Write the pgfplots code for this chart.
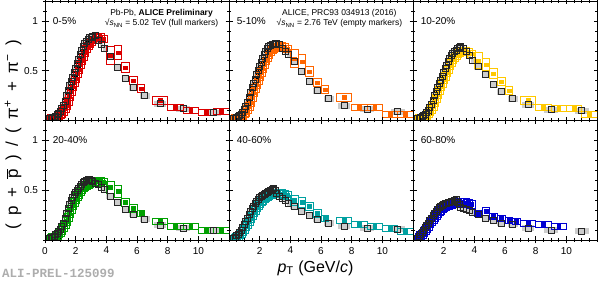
\documentclass[border=0pt]{standalone}
\usepackage{fontspec}
\setmainfont{Liberation Sans}
\newfontfamily\monofont{Liberation Mono}
\usepackage{pgfplots}
\usepackage{pgfplotstable}
\pgfplotsset{compat=1.18}
\usepgfplotslibrary{groupplots}

\definecolor{cA}{RGB}{220,0,0}
\definecolor{cB}{RGB}{255,102,0}
\definecolor{cC}{RGB}{255,200,0}
\definecolor{cD}{RGB}{0,160,0}
\definecolor{cE}{RGB}{0,160,160}
\definecolor{cF}{RGB}{0,0,210}
\definecolor{sysgray}{RGB}{205,205,205}

\pgfdeclareplotmark{sysbox}{\pgfpathrectanglecorners{\pgfpoint{-\bw pt}{-\bh pt}}{\pgfpoint{\bw pt}{\bh pt}}\pgfusepathqstroke}
\pgfdeclareplotmark{sysboxf}{\pgfpathrectanglecorners{\pgfpoint{-\bw pt}{-\bh pt}}{\pgfpoint{\bw pt}{\bh pt}}\pgfusepathqfill}

% ---------- 0-5% ----------
\pgfplotstableread{
x y
0.3 0.020
0.4 0.025
0.5 0.030
0.6 0.035
0.7 0.045
0.8 0.060
0.9 0.075
1.0 0.095
1.1 0.120
1.2 0.150
1.3 0.190
1.4 0.250
1.5 0.300
1.6 0.350
1.7 0.390
1.8 0.430
1.9 0.480
2.0 0.520
2.1 0.570
2.2 0.610
2.3 0.660
2.4 0.700
2.5 0.740
2.6 0.770
2.7 0.790
2.8 0.810
2.9 0.830
3.0 0.830
}\bla
\pgfplotstableread{
x y bw bh
3.1 0.84 1.6 2.5
3.3 0.85 1.6 2.5
3.5 0.80 1.6 2.5
3.7 0.76 1.6 2.5
3.9 0.72 1.6 2.5
4.25 0.64 4 3
4.75 0.53 4 3
5.25 0.42 4 3
5.75 0.33 4 3
6.5 0.25 5 3
7.5 0.17 6 3
9.0 0.12 7 3
11.0 0.08 7 3
}\bha
\pgfplotstableread{
x y
0.4 0.020
0.5 0.022
0.6 0.026
0.7 0.031
0.8 0.037
0.9 0.047
1.0 0.060
1.1 0.075
1.2 0.095
1.3 0.120
1.4 0.150
1.5 0.190
1.6 0.240
1.7 0.290
1.8 0.340
1.9 0.380
2.0 0.420
2.1 0.470
2.2 0.510
2.3 0.560
2.4 0.600
2.5 0.640
2.6 0.680
2.7 0.720
2.8 0.750
2.9 0.770
3.0 0.790
3.2 0.810
3.4 0.830
3.6 0.840
3.8 0.820
}\cla
\pgfplotstableread{
x y bw bh
4.25 0.65 3.9 9
4.75 0.68 3.9 7
5.25 0.53 3.9 5
5.75 0.40 3.9 4
6.25 0.32 3.9 4
7.5 0.20 7.7 4
8.5 0.13 7.7 3
9.5 0.10 7.7 3
10.5 0.085 7.7 3
11.5 0.09 7.7 3
}\cha

% ---------- 5-10% ----------
\pgfplotstableread{
x y
0.3 0.020
0.4 0.025
0.5 0.030
0.6 0.038
0.7 0.050
0.8 0.065
0.9 0.085
1.0 0.110
1.1 0.140
1.2 0.180
1.3 0.230
1.4 0.280
1.5 0.330
1.6 0.370
1.7 0.410
1.8 0.460
1.9 0.500
2.0 0.540
2.1 0.580
2.2 0.620
2.3 0.660
2.4 0.690
2.5 0.720
2.6 0.740
2.7 0.750
2.8 0.760
2.9 0.760
3.0 0.770
}\blb
\pgfplotstableread{
x y bw bh
3.1 0.77 1.6 2.5
3.3 0.76 1.6 2.5
3.5 0.72 1.6 2.5
3.7 0.69 1.6 2.5
3.9 0.66 1.6 2.5
4.25 0.59 4 3
4.75 0.49 4 3
5.25 0.39 4 3
5.75 0.30 4 3
6.5 0.22 5 3
7.5 0.15 6 3
9.0 0.115 7 3
11.0 0.09 7 3
}\bhb
\pgfplotstableread{
x y
0.4 0.020
0.5 0.023
0.6 0.027
0.7 0.032
0.8 0.040
0.9 0.052
1.0 0.067
1.1 0.085
1.2 0.110
1.3 0.140
1.4 0.180
1.5 0.230
1.6 0.280
1.7 0.320
1.8 0.360
1.9 0.400
2.0 0.440
2.1 0.480
2.2 0.520
2.3 0.560
2.4 0.600
2.5 0.630
2.6 0.660
2.7 0.690
2.8 0.710
2.9 0.720
3.0 0.730
3.2 0.740
3.4 0.750
3.6 0.740
3.8 0.720
}\clb
\pgfplotstableread{
x y bw bh
4.25 0.62 3.9 9
4.75 0.59 3.9 7
5.25 0.49 3.9 5
5.75 0.38 3.9 4
6.25 0.31 3.9 4
7.5 0.23 7.7 4
8.5 0.13 7.7 3
9.5 0.13 7.7 3
10.5 0.06 7.7 3
11.5 0.06 7.7 3
}\chb

% ---------- 10-20% ----------
\pgfplotstableread{
x y
0.3 0.020
0.4 0.025
0.5 0.030
0.6 0.037
0.7 0.047
0.8 0.060
0.9 0.080
1.0 0.100
1.1 0.130
1.2 0.160
1.3 0.200
1.4 0.250
1.5 0.290
1.6 0.330
1.7 0.370
1.8 0.400
1.9 0.440
2.0 0.480
2.1 0.520
2.2 0.550
2.3 0.590
2.4 0.620
2.5 0.650
2.6 0.670
2.7 0.690
2.8 0.700
2.9 0.720
3.0 0.730
}\blc
\pgfplotstableread{
x y bw bh
3.1 0.74 1.6 2.5
3.3 0.72 1.6 2.5
3.5 0.69 1.6 2.5
3.7 0.65 1.6 2.5
3.9 0.60 1.6 2.5
4.25 0.54 4 3
4.75 0.46 4 3
5.25 0.36 4 3
5.75 0.29 4 3
6.5 0.22 5 3
7.5 0.16 6 3
9.0 0.11 7 3
11.0 0.10 7 3
}\bhc
\pgfplotstableread{
x y
0.4 0.020
0.5 0.023
0.6 0.027
0.7 0.033
0.8 0.042
0.9 0.055
1.0 0.070
1.1 0.090
1.2 0.115
1.3 0.145
1.4 0.180
1.5 0.220
1.6 0.260
1.7 0.300
1.8 0.340
1.9 0.370
2.0 0.410
2.1 0.440
2.2 0.480
2.3 0.510
2.4 0.550
2.5 0.580
2.6 0.610
2.7 0.630
2.8 0.650
2.9 0.670
3.0 0.680
3.2 0.690
3.4 0.700
3.6 0.690
3.8 0.670
}\clc
\pgfplotstableread{
x y bw bh
4.25 0.60 3.9 8
4.75 0.56 3.9 6
5.25 0.47 3.9 5
5.75 0.39 3.9 4
6.25 0.30 3.9 4
7.5 0.20 7.7 4
8.5 0.13 7.7 3
9.5 0.12 7.7 3
10.5 0.12 7.7 3
11.5 0.065 7.7 3
}\chc

% ---------- 20-40% ----------
\pgfplotstableread{
x y
0.3 0.020
0.4 0.025
0.5 0.030
0.6 0.040
0.7 0.055
0.8 0.070
0.9 0.090
1.0 0.110
1.1 0.140
1.2 0.170
1.3 0.220
1.4 0.270
1.5 0.320
1.6 0.360
1.7 0.400
1.8 0.430
1.9 0.460
2.0 0.480
2.1 0.500
2.2 0.520
2.3 0.540
2.4 0.560
2.5 0.580
2.6 0.590
2.7 0.600
2.8 0.610
2.9 0.610
3.0 0.600
}\bld
\pgfplotstableread{
x y bw bh
3.1 0.59 1.6 2.5
3.3 0.57 1.6 2.5
3.5 0.56 1.6 2.5
3.7 0.53 1.6 2.5
3.9 0.51 1.6 2.5
4.25 0.44 4 3
4.75 0.38 4 3
5.25 0.31 4 3
5.75 0.26 4 3
6.5 0.21 5 3
7.5 0.15 6 3
9.0 0.12 7 3
11.0 0.10 7 3
}\bhd
\pgfplotstableread{
x y
0.4 0.020
0.5 0.024
0.6 0.030
0.7 0.038
0.8 0.048
0.9 0.062
1.0 0.080
1.1 0.100
1.2 0.125
1.3 0.155
1.4 0.190
1.5 0.230
1.6 0.270
1.7 0.310
1.8 0.350
1.9 0.380
2.0 0.410
2.1 0.440
2.2 0.460
2.3 0.490
2.4 0.510
2.5 0.530
2.6 0.540
2.7 0.550
2.8 0.560
2.9 0.570
3.0 0.575
3.2 0.580
3.4 0.590
3.6 0.590
3.8 0.580
}\cld
\pgfplotstableread{
x y bw bh
4.25 0.53 3.9 6
4.75 0.49 3.9 6
5.25 0.38 3.9 4
5.75 0.32 3.9 4
6.25 0.27 3.9 3
7.5 0.19 7.7 3
8.5 0.14 7.7 3
9.5 0.14 7.7 3
10.5 0.10 7.7 3
11.5 0.10 7.7 3
}\chd

% ---------- 40-60% ----------
\pgfplotstableread{
x y
0.3 0.020
0.4 0.030
0.5 0.045
0.6 0.060
0.7 0.080
0.8 0.100
0.9 0.130
1.0 0.160
1.1 0.190
1.2 0.220
1.3 0.260
1.4 0.290
1.5 0.320
1.6 0.340
1.7 0.370
1.8 0.390
1.9 0.410
2.0 0.430
2.1 0.440
2.2 0.450
2.3 0.460
2.4 0.470
2.5 0.480
2.6 0.490
2.7 0.500
2.8 0.510
2.9 0.520
3.0 0.500
}\ble
\pgfplotstableread{
x y bw bh
3.1 0.47 1.6 2.5
3.3 0.44 1.6 2.5
3.5 0.42 1.6 2.5
3.7 0.40 1.6 2.5
3.9 0.37 1.6 2.5
4.25 0.34 4 3
4.75 0.29 4 3
5.25 0.25 4 3
5.75 0.21 4 3
6.5 0.17 5 3
7.5 0.14 6 3
9.0 0.12 7 3
11.0 0.11 7 3
}\bhe
\pgfplotstableread{
x y
0.4 0.022
0.5 0.030
0.6 0.040
0.7 0.052
0.8 0.068
0.9 0.088
1.0 0.110
1.1 0.135
1.2 0.160
1.3 0.190
1.4 0.220
1.5 0.250
1.6 0.280
1.7 0.300
1.8 0.330
1.9 0.350
2.0 0.370
2.1 0.390
2.2 0.400
2.3 0.420
2.4 0.430
2.5 0.440
2.6 0.450
2.7 0.455
2.8 0.460
2.9 0.465
3.0 0.470
3.2 0.470
3.4 0.465
3.6 0.460
3.8 0.450
}\cle
\pgfplotstableread{
x y bw bh
4.25 0.40 3.9 5
4.75 0.38 3.9 5
5.25 0.34 3.9 4
5.75 0.27 3.9 4
6.25 0.22 3.9 3
7.5 0.20 7.7 3
8.5 0.16 7.7 3
9.5 0.14 7.7 3
10.5 0.12 7.7 3
11.5 0.09 7.7 3
}\che

% ---------- 60-80% ----------
\pgfplotstableread{
x y
0.3 0.020
0.4 0.040
0.5 0.060
0.6 0.080
0.7 0.100
0.8 0.130
0.9 0.150
1.0 0.170
1.1 0.200
1.2 0.220
1.3 0.250
1.4 0.270
1.5 0.290
1.6 0.310
1.7 0.330
1.8 0.340
1.9 0.350
2.0 0.360
2.1 0.370
2.2 0.370
2.3 0.380
2.4 0.380
2.5 0.390
2.6 0.390
2.7 0.400
2.8 0.410
2.9 0.380
3.0 0.360
}\blf
\pgfplotstableread{
x y bw bh
3.1 0.33 1.6 2.5
3.3 0.32 1.6 2.5
3.5 0.31 1.6 2.5
3.7 0.30 1.6 2.5
3.9 0.28 1.6 2.5
4.25 0.26 4 3
4.75 0.22 4 3
5.25 0.20 4 3
5.75 0.17 4 3
6.5 0.16 5 3
7.5 0.12 6 3
9.0 0.10 7 3
11.0 0.09 7 3
}\bhf
\pgfplotstableread{
x y
0.4 0.030
0.5 0.045
0.6 0.060
0.7 0.080
0.8 0.100
0.9 0.120
1.0 0.140
1.1 0.165
1.2 0.190
1.3 0.210
1.4 0.230
1.5 0.250
1.6 0.270
1.7 0.290
1.8 0.300
1.9 0.315
2.0 0.325
2.1 0.335
2.2 0.345
2.3 0.350
2.4 0.355
2.5 0.360
2.6 0.365
2.7 0.370
2.8 0.375
2.9 0.375
3.0 0.380
3.2 0.380
3.4 0.375
3.6 0.370
3.8 0.360
}\clf
\pgfplotstableread{
x y bw bh
4.25 0.27 3.9 3
4.75 0.29 3.9 4
5.25 0.24 3.9 3
5.75 0.22 3.9 3
6.25 0.20 3.9 3
6.75 0.19 3.9 3
7.5 0.17 7.7 3
8.5 0.16 7.7 3
9.5 0.14 7.7 3
}\chf

\pgfplotsset{
  graysys/.style={only marks, mark=square*, mark size=3.2pt, mark options={draw=none, fill=sysgray}},
  graysysH/.style={only marks, scatter, mark=sysboxf,
     scatter/use mapped color={draw=none, fill=sysgray},
     visualization depends on={\thisrow{bw}\as\bw},
     visualization depends on={\thisrow{bh}\as\bh}},
  colsys/.style={only marks, mark=square, mark size=3.9pt, mark options={draw=#1, fill=none, line width=0.6pt}},
  colsysH/.style={only marks, scatter, mark=sysbox, line width=0.6pt,
     scatter/use mapped color={draw=#1, fill=none},
     visualization depends on={\thisrow{bw}\as\bw},
     visualization depends on={\thisrow{bh}\as\bh}},
  colpt/.style={only marks, mark=square*, mark size=1.9pt, mark options={draw=#1, fill=#1}},
  blkpt/.style={only marks, mark=square, mark size=3pt, mark options={draw=black!85, fill=none, line width=0.8pt}},
}

\newcommand{\panel}[5]{%
  \addplot[graysys] table {#1};
  \addplot[graysysH] table {#2};
  \addplot[colsys=#5] table {#3};
  \addplot[colsysH=#5] table {#4};
  \addplot[colpt=#5] table {#3};
  \addplot[colpt=#5] table {#4};
  \addplot[blkpt] table {#1};
  \addplot[blkpt] table {#2};
}

\begin{document}
\begin{tikzpicture}
\begin{groupplot}[
  group style={group size=3 by 2, horizontal sep=0pt, vertical sep=0pt,
               xticklabels at=edge bottom, yticklabels at=edge left},
  scale only axis, width=184pt, height=119.5pt,
  xmin=0, xmax=12, ymin=0, ymax=1.2,
  xtick={0,2,...,10}, minor xtick={0,0.5,...,12},
  ytick={0.5,1}, minor ytick={0,0.1,...,1.2},
  tick align=center, major tick length=7pt, minor tick length=4pt,
  tick style={black, line width=0.5pt},
  axis line style={line width=0.8pt},
  ticklabel style={font=\fontsize{10}{12}\selectfont},
  /pgf/number format/assume math mode=true,
  clip marker paths=true,
]
\nextgroupplot
\coordinate (TL) at (rel axis cs:0,1);
\panel{\bla}{\bha}{\cla}{\cha}{cA}
\node[anchor=west, inner sep=0pt, font=\fontsize{10}{12}\selectfont] at (axis cs:0.5,1.0) {0-5\%};
\node[align=center, inner sep=0pt, font=\fontsize{8.5}{10.5}\selectfont] at (axis cs:7.6,1.026) {Pb-Pb, \textbf{ALICE Preliminary}\\ √\textit{s}\textsubscript{NN} = 5.02 TeV (full markers)};

\nextgroupplot
\panel{\blb}{\bhb}{\clb}{\chb}{cB}
\node[anchor=west, inner sep=0pt, font=\fontsize{10}{12}\selectfont] at (axis cs:0.5,1.0) {5-10\%};
\node[align=center, inner sep=0pt, font=\fontsize{8.5}{10.5}\selectfont] at (axis cs:7.2,1.026) {ALICE, PRC93 034913 (2016)\\ √\textit{s}\textsubscript{NN} = 2.76 TeV (empty markers)};

\nextgroupplot
\panel{\blc}{\bhc}{\clc}{\chc}{cC}
\node[anchor=west, inner sep=0pt, font=\fontsize{10}{12}\selectfont] at (axis cs:0.5,1.0) {10-20\%};

\nextgroupplot
\coordinate (BL) at (rel axis cs:0,0);
\coordinate (ML) at (rel axis cs:0,1);
\panel{\bld}{\bhd}{\cld}{\chd}{cD}
\node[anchor=west, inner sep=0pt, font=\fontsize{10}{12}\selectfont] at (axis cs:0.5,1.0) {20-40\%};

\nextgroupplot[xtick={2,4,...,10}]
\coordinate (XL) at (rel axis cs:0.47,0);
\panel{\ble}{\bhe}{\cle}{\che}{cE}
\node[anchor=west, inner sep=0pt, font=\fontsize{10}{12}\selectfont] at (axis cs:0.5,1.0) {40-60\%};

\nextgroupplot[xtick={2,4,...,10}]
\coordinate (BR) at (rel axis cs:1,0);
\panel{\blf}{\bhf}{\clf}{\chf}{cF}
\node[anchor=west, inner sep=0pt, font=\fontsize{10}{12}\selectfont] at (axis cs:0.5,1.0) {60-80\%};
\end{groupplot}
\node[rotate=90, inner sep=0pt, font=\fontsize{17}{20}\selectfont] at ([xshift=-32pt,yshift=-14pt]ML) {(\hspace{0.5em}p\hspace{0.5em}+\hspace{0.5em}$\overline{\mbox{p}}$\hspace{0.5em})\hspace{0.5em}/\hspace{0.5em}(\hspace{0.5em}π\textsuperscript{+}\hspace{0.5em}+\hspace{0.5em}π\textsuperscript{−}\hspace{0.5em})};
\node[anchor=west, inner sep=0pt, text=black!32, font=\monofont\bfseries\fontsize{12.5}{14}\selectfont] at ([xshift=-43pt,yshift=-33pt]BL) {ALI-PREL-125099};
\node[inner sep=0pt, font=\fontsize{16}{19}\selectfont] at ([yshift=-28pt]XL) {\textit{p}\textsubscript{T} (GeV/\textit{c})};
\pgfresetboundingbox
\path ([xshift=-45pt,yshift=1pt]TL) rectangle ([xshift=1pt,yshift=-42pt]BR);
\end{tikzpicture}
\end{document}
